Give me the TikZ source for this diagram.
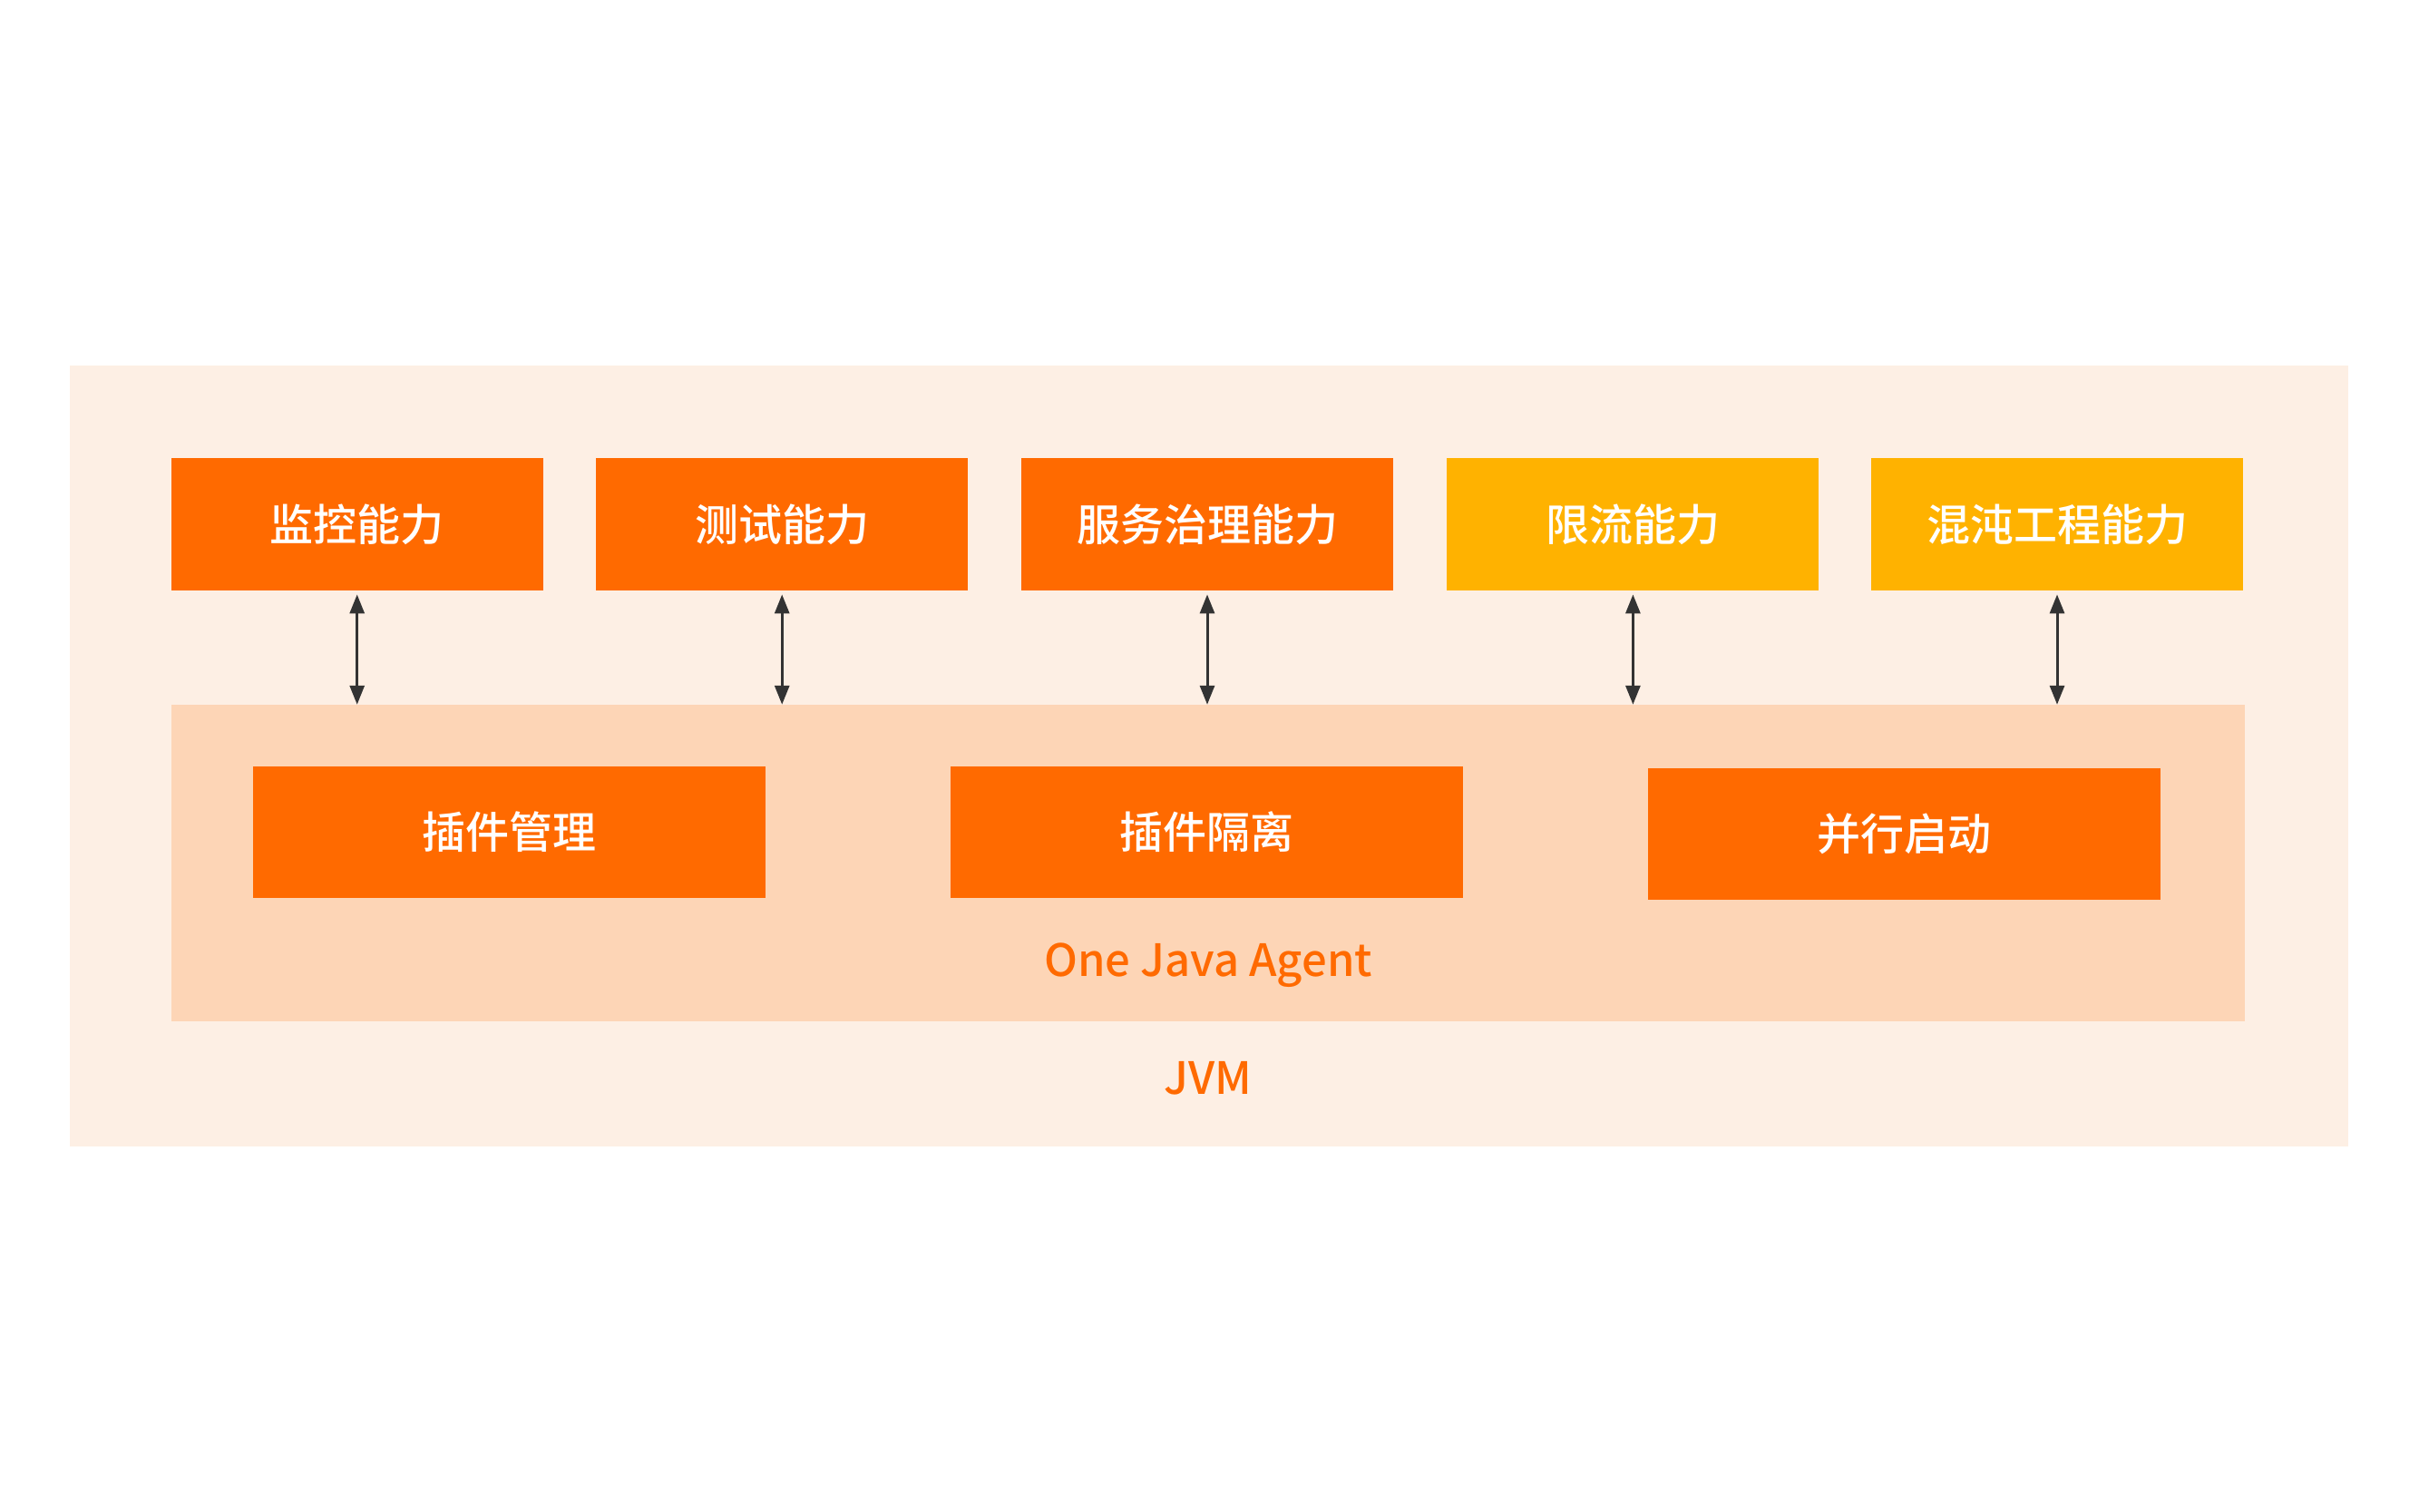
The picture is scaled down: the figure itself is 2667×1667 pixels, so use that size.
\documentclass[tikz,border=0pt]{standalone}
\usepackage{fontspec}
\setmainfont{Noto Sans CJK SC}
\newfontfamily\cjk{Noto Sans CJK SC}[UprightFont=* Medium, BoldFont=* Bold]
\usetikzlibrary{arrows.meta,positioning}
\definecolor{deeporange}{HTML}{FF6A00}
\definecolor{amber}{HTML}{FFB200}
\definecolor{jvmbg}{HTML}{FDEFE4}
\definecolor{agentbg}{HTML}{FDD5B6}
\definecolor{arrowgray}{HTML}{333333}
\tikzset{
  capbox/.style={fill=deeporange, draw=none, minimum width=410pt, minimum height=146pt, inner sep=0pt,
    text=white, font=\cjk\fontsize{48}{52}\selectfont},
  capboxy/.style={capbox, fill=amber},
  basebox/.style={capbox, minimum width=565pt, minimum height=145pt},
  link/.style={arrowgray, line width=3pt, {Triangle[length=21pt,width=16pt]}-{Triangle[length=21pt,width=16pt]}},
  label/.style={text=deeporange, font=\cjk\fontsize{49}{53}\selectfont}
}
\begin{document}
\begin{tikzpicture}[x=1pt,y=-1pt]
\useasboundingbox (0,0) rectangle (2667,1667);
\fill[white] (0,0) rectangle (2667,1667);
\node[fill=jvmbg, minimum width=2512pt, minimum height=861pt, inner sep=0pt] (jvm) at (1332.5,833.5) {};
\node[fill=agentbg, minimum width=2286pt, minimum height=349pt, inner sep=0pt] (agent) at (1331.8,951.5) {};
\node[capbox] (b1) at (393.7,578.2) {监控能力};
\node[capbox] (b2) at (862.2,578.2) {测试能力};
\node[capbox] (b3) at (1331,578.2) {服务治理能力};
\node[capboxy] (b4) at (1800.4,578.2) {限流能力};
\node[capboxy] (b5) at (2268,578.2) {混沌工程能力};
\node[basebox] (p1) at (561.3,917.5) {插件管理};
\node[basebox] (p2) at (1330.1,917.5) {插件隔离};
\node[basebox] (p3) at (2099,919.3) {并行启动};
\node[label] (agentlabel) at (1332,1064) {One Java Agent};
\node[label] (jvmlabel) at (1332,1189) {JVM};
\foreach \b in {b1,b2,b3,b4,b5}{
  \draw[link, shorten <=4pt] (\b.south) -- (\b.south |- agent.north);
}
\end{tikzpicture}
\end{document}
